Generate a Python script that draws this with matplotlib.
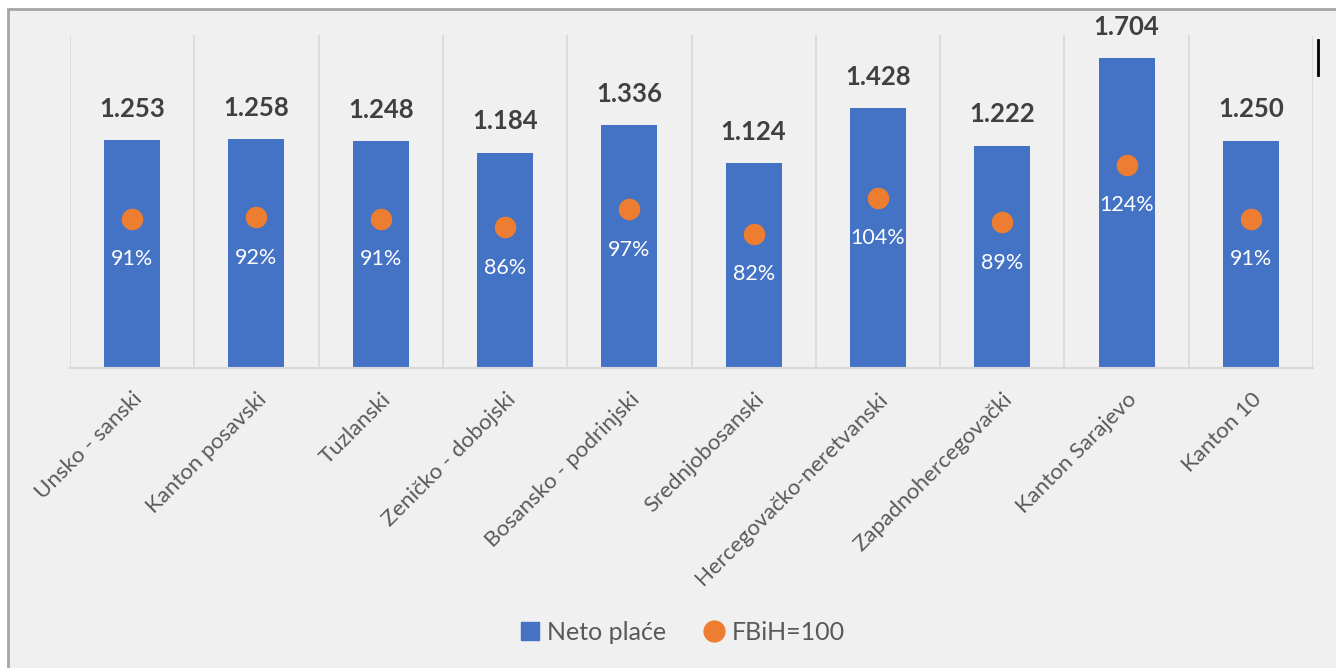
import matplotlib.pyplot as plt
from matplotlib.patches import Rectangle
from matplotlib.lines import Line2D

# Data
kantoni = ["Unsko - sanski", "Kanton posavski", "Tuzlanski", "Zeničko - dobojski",
           "Bosansko - podrinjski", "Srednjobosanski", "Hercegovačko-neretvanski",
           "Zapadnohercegovački", "Kanton Sarajevo", "Kanton 10"]
neto_place = [1253, 1258, 1248, 1184, 1336, 1124, 1428, 1222, 1704, 1250]
fbih_index = [91, 92, 91, 86, 97, 82, 104, 89, 124, 91]

plt.rcParams['font.family'] = ['Lato', 'DejaVu Sans']

blue = '#4472C4'
orange = '#ED7D31'
grid_col = '#D9D9D9'

fig = plt.figure(figsize=(13.36, 6.68), dpi=100, facecolor='white')
# chart area background with border (slightly offset like the screenshot)
bg = Rectangle((8 / 1336, -0.05), 1.1, 1 - 9 / 668 + 0.05,
               transform=fig.transFigure, facecolor='#F0F0F0',
               edgecolor='#A6A6A6', linewidth=2, zorder=-10)
fig.add_artist(bg)

ax = fig.add_axes([70 / 1336, 1 - 368 / 668, 1243 / 1336, 333 / 668])
ax.set_facecolor('none')
x = range(len(kantoni))

ax.bar(x, neto_place, width=0.45, color=blue, zorder=2)
ax.set_xlim(-0.5, len(kantoni) - 0.5)
ax.set_ylim(0, 1830)

for xi, v in zip(x, neto_place):
    ax.annotate(f"{v / 1000:.3f}", (xi, v), xytext=(0, 22.5), textcoords='offset points',
                ha='center', va='center', fontsize=18.5, fontweight='bold', color='#404040')

# category separators
ax.set_xticks([i - 0.5 for i in range(len(kantoni) + 1)], minor=True)
ax.grid(axis='x', which='minor', color=grid_col, linewidth=1.2)
ax.tick_params(axis='x', which='both', length=0)
ax.set_xticks(list(x))
ax.set_xticklabels(kantoni, rotation=45, ha='right', va='top', rotation_mode='anchor',
                   fontsize=16, color='#595959')
ax.tick_params(axis='x', pad=15)
ax.set_yticks([])
for s in ['top', 'right', 'left']:
    ax.spines[s].set_visible(False)
ax.spines['bottom'].set_color(grid_col)
ax.spines['bottom'].set_linewidth(1.5)

# secondary axis for index
ax2 = ax.twinx()
ax2.set_ylim(0, 203.5)
ax2.scatter(list(x), fbih_index, s=210, color=orange, zorder=3)
for xi, p in zip(x, fbih_index):
    ax2.annotate(f"{p}%", (xi, p), xytext=(0, -29), textcoords='offset points',
                 ha='center', va='center', fontsize=15.5, color='white')
ax2.set_yticks([])
for s in ax2.spines.values():
    s.set_visible(False)

handles = [Line2D([], [], marker='s', linestyle='none', color=blue, markersize=13),
           Line2D([], [], marker='o', linestyle='none', color=orange, markersize=15)]
fig.legend(handles, ["Neto plaće", "FBiH=100"], loc='center', bbox_to_anchor=(681 / 1336, 1 - 632 / 668),
           ncol=2, frameon=False, fontsize=18, labelcolor='#595959',
           handletextpad=0.2, columnspacing=1.4, handlelength=1.0)

# small cursor mark at upper right
fig.add_artist(Line2D([1318 / 1336, 1318 / 1336], [1 - 40 / 668, 1 - 75 / 668],
                      transform=fig.transFigure, color='black', linewidth=2))

fig.savefig('out.png', dpi=100, facecolor=fig.get_facecolor())
